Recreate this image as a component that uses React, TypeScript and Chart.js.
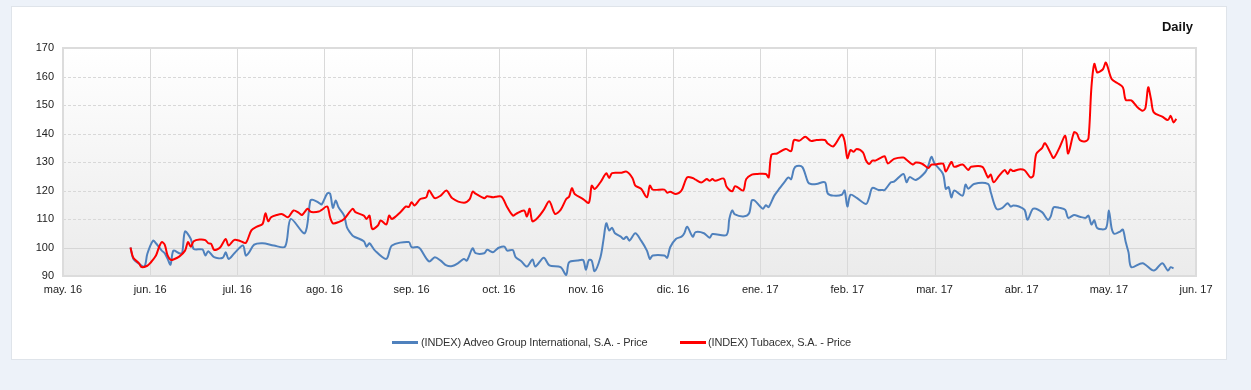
import React, { useEffect, useRef } from "react";
import { Chart, registerables } from "chart.js";

Chart.register(...registerables);

const monthLabels = [
  "may. 16", "jun. 16", "jul. 16", "ago. 16", "sep. 16", "oct. 16", "nov. 16",
  "dic. 16", "ene. 17", "feb. 17", "mar. 17", "abr. 17", "may. 17", "jun. 17",
];

const seriesNames = [
  "(INDEX) Adveo Group International, S.A. - Price",
  "(INDEX) Tubacex, S.A. - Price",
];

const advDates = [
  "2016-05-25","2016-05-26","2016-05-28","2016-05-30","2016-05-31","2016-06-02","2016-06-03","2016-06-05","2016-06-06","2016-06-07",
  "2016-06-08","2016-06-09","2016-06-11","2016-06-12","2016-06-13","2016-06-15","2016-06-16","2016-06-19","2016-06-20","2016-06-21",
  "2016-06-23","2016-06-26","2016-06-27","2016-06-28","2016-06-30","2016-07-03","2016-07-04","2016-07-05","2016-07-07","2016-07-10",
  "2016-07-14","2016-07-18","2016-07-20","2016-07-25","2016-07-27","2016-07-28","2016-07-30","2016-07-31","2016-08-02","2016-08-03",
  "2016-08-04","2016-08-05","2016-08-06","2016-08-08","2016-08-09","2016-08-11","2016-08-12","2016-08-15","2016-08-16","2016-08-17",
  "2016-08-19","2016-08-23","2016-08-25","2016-08-31","2016-09-01","2016-09-03","2016-09-04","2016-09-07","2016-09-09","2016-09-11",
  "2016-09-13","2016-09-15","2016-09-17","2016-09-19","2016-09-20","2016-09-22","2016-09-23","2016-09-26","2016-09-27","2016-09-29",
  "2016-09-30","2016-10-01","2016-10-03","2016-10-04","2016-10-06","2016-10-07","2016-10-09","2016-10-11","2016-10-13","2016-10-14",
  "2016-10-17","2016-10-19","2016-10-23","2016-10-25","2016-10-26","2016-10-29","2016-10-31","2016-11-01","2016-11-02","2016-11-03",
  "2016-11-04","2016-11-06","2016-11-07","2016-11-08","2016-11-09","2016-11-10","2016-11-11","2016-11-13","2016-11-14","2016-11-15",
  "2016-11-16","2016-11-18","2016-11-20","2016-11-22","2016-11-23","2016-11-24","2016-11-28","2016-11-29","2016-11-30","2016-12-02",
  "2016-12-04","2016-12-05","2016-12-06","2016-12-08","2016-12-09","2016-12-12","2016-12-14","2016-12-15","2016-12-20","2016-12-21",
  "2016-12-22","2016-12-23","2016-12-26","2016-12-28","2016-12-29","2016-12-30","2017-01-01","2017-01-02","2017-01-03","2017-01-04",
  "2017-01-06","2017-01-08","2017-01-10","2017-01-11","2017-01-12","2017-01-13","2017-01-14","2017-01-16","2017-01-18","2017-01-19",
  "2017-01-21","2017-01-24","2017-01-25","2017-01-27","2017-01-30","2017-01-31","2017-02-01","2017-02-02","2017-02-04","2017-02-07",
  "2017-02-08","2017-02-09","2017-02-11","2017-02-12","2017-02-13","2017-02-15","2017-02-16","2017-02-19","2017-02-20","2017-02-21",
  "2017-02-23","2017-02-26","2017-02-27","2017-02-28","2017-03-01","2017-03-04","2017-03-05","2017-03-06","2017-03-07","2017-03-08",
  "2017-03-11","2017-03-12","2017-03-13","2017-03-15","2017-03-20","2017-03-21","2017-03-23","2017-03-25","2017-03-27","2017-03-28",
  "2017-03-29","2017-03-31","2017-04-02","2017-04-03","2017-04-05","2017-04-08","2017-04-10","2017-04-11","2017-04-12","2017-04-14",
  "2017-04-16","2017-04-17","2017-04-19","2017-04-21","2017-04-23","2017-04-24","2017-04-25","2017-04-26","2017-04-27","2017-04-30",
  "2017-05-01","2017-05-02","2017-05-03","2017-05-05","2017-05-06","2017-05-07","2017-05-08","2017-05-09","2017-05-13","2017-05-17",
  "2017-05-20","2017-05-22","2017-05-23","2017-05-24",
];

const advValues = [
  100.0, 96.0, 94.3, 93.4, 97.8, 102.4, 101.5, 98.9, 98.0, 96.0,
  94.0, 98.9, 98.0, 98.0, 105.6, 103.0, 99.5, 99.3, 97.2, 98.7,
  96.6, 96.4, 98.3, 96.0, 98.0, 100.7, 97.2, 98.0, 101.0, 101.5,
  100.7, 100.3, 110.0, 105.0, 116.5, 116.7, 115.7, 115.1, 119.0, 118.9,
  113.9, 116.5, 114.1, 111.2, 107.1, 104.2, 103.6, 102.2, 100.3, 101.5,
  98.9, 96.0, 100.7, 101.9, 100.1, 100.2, 99.5, 95.1, 96.6, 95.4,
  93.7, 93.5, 94.5, 96.0, 95.4, 99.7, 98.0, 98.0, 99.2, 98.3,
  99.1, 99.9, 100.3, 98.9, 99.1, 96.6, 95.2, 93.3, 95.8, 93.3,
  96.4, 93.7, 93.1, 90.4, 94.8, 95.4, 95.6, 92.2, 95.6, 95.4,
  91.7, 96.6, 102.4, 108.5, 106.0, 106.9, 105.0, 103.8, 103.0, 103.8,
  102.4, 105.0, 102.4, 98.9, 96.0, 97.2, 97.2, 96.4, 100.1, 103.0,
  103.8, 105.0, 107.3, 103.8, 105.4, 105.0, 103.4, 104.7, 104.4, 110.0,
  113.0, 111.6, 110.9, 111.9, 116.5, 116.5, 114.4, 113.6, 114.8, 114.2,
  118.2, 120.9, 123.5, 124.6, 124.0, 127.6, 128.6, 128.2, 122.9, 122.3,
  122.3, 122.9, 119.0, 118.2, 118.5, 120.0, 114.4, 118.5, 117.4, 115.3,
  117.6, 120.9, 120.2, 120.2, 120.2, 122.9, 123.1, 125.8, 122.9, 124.7,
  123.7, 126.4, 128.7, 131.8, 129.5, 125.8, 120.6, 121.2, 117.6, 120.0,
  118.2, 122.1, 120.6, 122.3, 122.3, 119.4, 113.6, 113.8, 115.5, 114.4,
  114.7, 114.4, 113.2, 109.7, 113.6, 112.4, 109.7, 110.9, 114.1, 113.9,
  113.2, 110.4, 111.4, 110.8, 110.4, 111.2, 108.1, 109.5, 106.8, 106.7,
  113.0, 106.7, 104.8, 105.6, 106.3, 101.9, 98.3, 93.1, 94.5, 91.9,
  94.5, 91.9, 93.1, 92.7,
];

const tubDates = [
  "2016-05-25","2016-05-26","2016-05-28","2016-05-29","2016-05-31","2016-06-01","2016-06-03","2016-06-04","2016-06-05","2016-06-06",
  "2016-06-07","2016-06-08","2016-06-09","2016-06-11","2016-06-13","2016-06-14","2016-06-15","2016-06-16","2016-06-18","2016-06-20",
  "2016-06-21","2016-06-22","2016-06-23","2016-06-25","2016-06-27","2016-06-28","2016-06-30","2016-07-02","2016-07-04","2016-07-06",
  "2016-07-08","2016-07-10","2016-07-11","2016-07-12","2016-07-13","2016-07-15","2016-07-17","2016-07-19","2016-07-21","2016-07-23",
  "2016-07-24","2016-07-26","2016-07-27","2016-07-28","2016-07-30","2016-07-31","2016-08-02","2016-08-03","2016-08-04","2016-08-06",
  "2016-08-08","2016-08-11","2016-08-12","2016-08-15","2016-08-16","2016-08-17","2016-08-18","2016-08-20","2016-08-21","2016-08-23",
  "2016-08-24","2016-08-25","2016-08-28","2016-08-30","2016-08-31","2016-09-01","2016-09-02","2016-09-04","2016-09-06","2016-09-07",
  "2016-09-09","2016-09-11","2016-09-13","2016-09-15","2016-09-19","2016-09-21","2016-09-22","2016-09-23","2016-09-26","2016-09-27",
  "2016-09-29","2016-09-30","2016-10-02","2016-10-04","2016-10-06","2016-10-07","2016-10-10","2016-10-11","2016-10-12","2016-10-13",
  "2016-10-15","2016-10-17","2016-10-19","2016-10-21","2016-10-23","2016-10-25","2016-10-26","2016-10-27","2016-10-28","2016-10-31",
  "2016-11-02","2016-11-03","2016-11-04","2016-11-06","2016-11-08","2016-11-09","2016-11-10","2016-11-13","2016-11-15","2016-11-17",
  "2016-11-18","2016-11-20","2016-11-22","2016-11-23","2016-11-24","2016-11-28","2016-11-29","2016-11-30","2016-12-02","2016-12-04",
  "2016-12-06","2016-12-08","2016-12-09","2016-12-11","2016-12-13","2016-12-14","2016-12-15","2016-12-16","2016-12-19","2016-12-20",
  "2016-12-22","2016-12-23","2016-12-24","2016-12-26","2016-12-27","2016-12-29","2016-12-31","2017-01-03","2017-01-04","2017-01-05",
  "2017-01-07","2017-01-10","2017-01-12","2017-01-13","2017-01-15","2017-01-17","2017-01-19","2017-01-21","2017-01-24","2017-01-25",
  "2017-01-27","2017-01-30","2017-01-31","2017-02-01","2017-02-02","2017-02-03","2017-02-04","2017-02-06","2017-02-07","2017-02-08",
  "2017-02-09","2017-02-10","2017-02-12","2017-02-13","2017-02-14","2017-02-16","2017-02-19","2017-02-20","2017-02-22","2017-02-23",
  "2017-02-25","2017-02-27","2017-02-28","2017-03-01","2017-03-04","2017-03-05","2017-03-07","2017-03-08","2017-03-11","2017-03-13",
  "2017-03-14","2017-03-18","2017-03-20","2017-03-21","2017-03-22","2017-03-24","2017-03-26","2017-03-27","2017-03-28","2017-03-29",
  "2017-03-31","2017-04-02","2017-04-04","2017-04-05","2017-04-06","2017-04-08","2017-04-09","2017-04-11","2017-04-12","2017-04-14",
  "2017-04-16","2017-04-17","2017-04-19","2017-04-20","2017-04-21","2017-04-23","2017-04-24","2017-04-25","2017-04-26","2017-04-27",
  "2017-04-28","2017-04-29","2017-04-30","2017-05-02","2017-05-04","2017-05-06","2017-05-07","2017-05-09","2017-05-11","2017-05-13",
  "2017-05-14","2017-05-15","2017-05-16","2017-05-17","2017-05-20","2017-05-22","2017-05-23","2017-05-24","2017-05-25",
];

const tubValues = [
  100.0, 96.4, 94.5, 93.1, 93.6, 94.5, 97.2, 100.0, 101.9, 101.0,
  97.2, 95.7, 95.8, 96.8, 98.9, 101.9, 100.3, 102.2, 102.8, 102.6,
  101.5, 101.3, 99.2, 99.9, 103.0, 100.7, 102.7, 102.3, 101.6, 106.0,
  107.3, 108.3, 112.0, 109.2, 110.6, 111.4, 111.7, 110.6, 113.0, 112.1,
  111.4, 113.6, 112.6, 112.4, 112.6, 113.2, 114.4, 110.6, 108.5, 108.9,
  110.0, 113.6, 112.4, 111.2, 110.0, 111.2, 106.5, 107.7, 109.5, 108.1,
  111.2, 110.0, 112.4, 114.4, 114.2, 115.9, 114.7, 117.0, 117.6, 120.0,
  117.3, 118.2, 120.0, 117.3, 115.7, 117.0, 119.6, 118.9, 117.3, 118.0,
  117.6, 117.8, 117.8, 114.1, 111.2, 111.7, 113.0, 110.9, 113.6, 109.2,
  110.6, 113.2, 116.2, 111.8, 113.2, 117.0, 117.8, 120.8, 118.8, 117.0,
  115.7, 121.7, 120.5, 122.9, 126.0, 124.4, 126.1, 126.2, 126.6, 124.4,
  121.7, 120.6, 117.6, 121.7, 120.3, 120.3, 119.2, 119.6, 118.8, 120.0,
  124.6, 124.4, 123.8, 122.8, 124.0, 123.4, 124.0, 123.4, 124.2, 121.4,
  119.7, 121.5, 121.1, 120.0, 124.0, 125.6, 125.8, 125.8, 124.6, 132.6,
  133.0, 134.6, 133.8, 137.7, 137.5, 138.9, 137.4, 137.7, 137.7, 136.5,
  135.5, 139.6, 137.4, 131.3, 134.2, 133.6, 134.6, 133.4, 130.5, 129.3,
  130.5, 130.5, 131.6, 132.0, 129.5, 131.1, 131.6, 130.8, 129.1, 129.8,
  129.4, 127.9, 129.1, 129.1, 129.4, 126.7, 130.0, 128.3, 129.1, 127.2,
  128.3, 128.3, 124.6, 125.6, 122.9, 125.2, 127.2, 125.8, 127.4, 126.8,
  127.4, 127.1, 124.6, 125.2, 132.8, 134.9, 136.6, 133.0, 131.4, 135.0,
  139.2, 133.0, 140.4, 140.0, 137.7, 137.3, 138.4, 156.2, 164.4, 161.4,
  161.8, 162.6, 164.9, 159.1, 157.7, 156.2, 151.8, 151.6, 149.4, 148.0,
  148.9, 156.2, 152.0, 147.4, 145.9, 144.7, 146.2, 143.9, 145.1,
];

const Y_MIN = 90;
const Y_MAX = 170;
const Y_STEP = 10;
const BASE_LINE = 100;

const FONT = '"Liberation Sans", Arial, sans-serif';

// position of a date on the month-based axis (each month gets equal width)
function toX(s: string): number {
  const [y, m, d] = s.split("-").map(Number);
  const idx = (y - 2016) * 12 + (m - 1) - 4;
  const dim = new Date(y, m, 0).getDate();
  return idx + (d - 1) / dim;
}

const plotBackground = {
  id: "plotBackground",
  beforeDatasetsDraw(chart: any) {
    const { ctx, chartArea: a, scales } = chart;
    ctx.save();
    const g = ctx.createLinearGradient(0, a.top, 0, a.bottom);
    g.addColorStop(0, "#ffffff");
    g.addColorStop(1, "#ebebeb");
    ctx.fillStyle = g;
    ctx.fillRect(a.left, a.top, a.right - a.left, a.bottom - a.top);

    ctx.lineWidth = 1;
    ctx.strokeStyle = "#d9d9d9";
    scales.x.ticks.forEach((t: any) => {
      const x = Math.round(scales.x.getPixelForValue(t.value)) + 0.5;
      ctx.beginPath();
      ctx.moveTo(x, a.top);
      ctx.lineTo(x, a.bottom);
      ctx.stroke();
    });
    scales.y.ticks.forEach((t: any) => {
      const y = Math.round(scales.y.getPixelForValue(t.value)) + 0.5;
      if (t.value === BASE_LINE) {
        ctx.setLineDash([]);
        ctx.strokeStyle = "#d6d6d6";
      } else {
        ctx.setLineDash([3, 2]);
        ctx.strokeStyle = "#d8d8d8";
      }
      ctx.beginPath();
      ctx.moveTo(a.left, y);
      ctx.lineTo(a.right, y);
      ctx.stroke();
    });
    ctx.setLineDash([]);
    ctx.strokeStyle = "#dcdcdc";
    ctx.lineWidth = 2;
    ctx.strokeRect(a.left, a.top, a.right - a.left, a.bottom - a.top);
    ctx.restore();
  },
};

export default function App() {
  const canvasRef = useRef<HTMLCanvasElement | null>(null);

  useEffect(() => {
    if (!canvasRef.current) return;
    const chart = new Chart(canvasRef.current, {
      type: "line",
      data: {
        datasets: [
          {
            label: seriesNames[0],
            data: advDates.map((d, i) => ({ x: toX(d), y: advValues[i] })),
            borderColor: "#4f81bd",
            backgroundColor: "#4f81bd",
            borderWidth: 2,
            pointRadius: 0,
            tension: 0.3,
            order: 1,
          },
          {
            label: seriesNames[1],
            data: tubDates.map((d, i) => ({ x: toX(d), y: tubValues[i] })),
            borderColor: "#ff0000",
            backgroundColor: "#ff0000",
            borderWidth: 2,
            pointRadius: 0,
            tension: 0.3,
            order: 0,
          },
        ],
      },
      options: {
        responsive: false,
        animation: false,
        layout: { padding: { left: 0, top: 48, right: 55, bottom: 84 } },
        plugins: {
          legend: { display: false },
          tooltip: { enabled: false },
        },
        scales: {
          x: {
            type: "linear",
            min: 0,
            max: monthLabels.length - 1,
            grid: { display: false, drawTicks: false },
            border: { display: false },
            afterBuildTicks: (s: any) => {
              s.ticks = monthLabels.map((_, i) => ({ value: i }));
            },
            afterFit: (s: any) => {
              s.height = 30;
              s.paddingLeft = 0;
              s.paddingRight = 0;
            },
            ticks: {
              autoSkip: false,
              maxRotation: 0,
              minRotation: 0,
              padding: 7,
              color: "#222222",
              font: { family: FONT, size: 11 },
              callback: (v: any) => monthLabels[Math.round(Number(v))] ?? "",
            },
          },
          y: {
            type: "linear",
            min: Y_MIN,
            max: Y_MAX,
            grid: { display: false, drawTicks: false },
            border: { display: false },
            afterFit: (s: any) => {
              s.width = 63;
            },
            ticks: {
              stepSize: Y_STEP,
              padding: 9,
              color: "#222222",
              font: { family: FONT, size: 11 },
            },
          },
        },
      },
      plugins: [plotBackground],
    });
    return () => chart.destroy();
  }, []);

  const legendText: React.CSSProperties = {
    position: "absolute",
    top: 335,
    font: `11px ${FONT}`,
    letterSpacing: "-0.15px",
    color: "#333333",
    lineHeight: "14px",
    whiteSpace: "nowrap",
  };

  return (
    <div
      style={{
        position: "fixed",
        left: 0,
        top: 0,
        width: 1251,
        height: 390,
        background: "#edf2f9",
        overflow: "hidden",
      }}
    >
      <div
        style={{
          position: "absolute",
          left: 11,
          top: 6,
          width: 1214,
          height: 352,
          background: "#ffffff",
          border: "1px solid #dfe4ea",
        }}
      />
      <canvas
        ref={canvasRef}
        width={1251}
        height={390}
        style={{ position: "absolute", left: 0, top: 0, width: 1251, height: 390 }}
      />
      <div
        style={{
          position: "absolute",
          right: 58,
          top: 19,
          font: `bold 13px ${FONT}`,
          lineHeight: "15px",
          color: "#111111",
        }}
      >
        Daily
      </div>
      <div style={{ position: "absolute", left: 392, top: 341, width: 26, height: 3, background: "#4f81bd" }} />
      <div style={{ ...legendText, left: 421 }}>{seriesNames[0]}</div>
      <div style={{ position: "absolute", left: 680, top: 341, width: 26, height: 3, background: "#ff0000" }} />
      <div style={{ ...legendText, left: 708 }}>{seriesNames[1]}</div>
    </div>
  );
}
